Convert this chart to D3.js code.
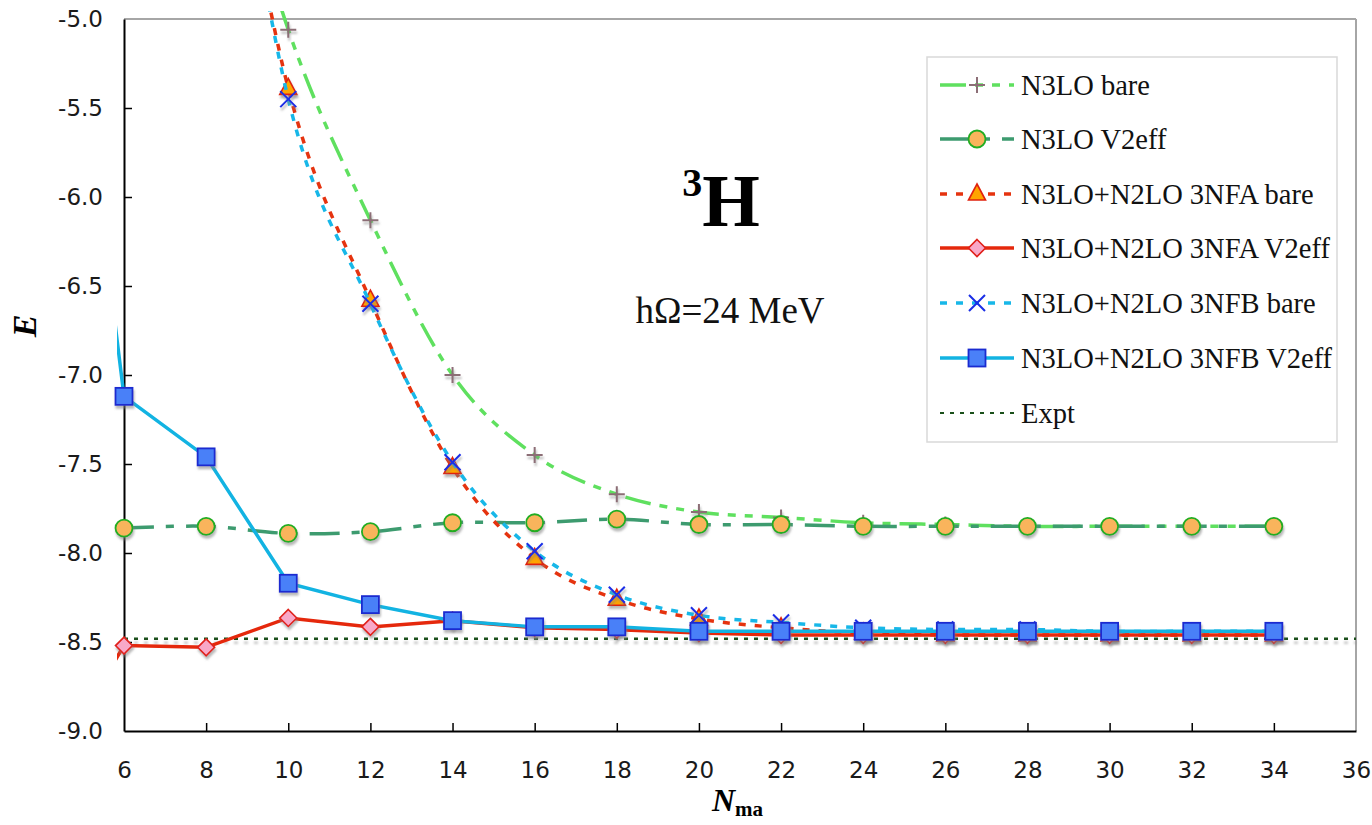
<!DOCTYPE html>
<html>
<head>
<meta charset="utf-8">
<script src="https://cdn.jsdelivr.net/npm/d3@7"></script>
<style>
  html, body { margin: 0; padding: 0; background: #fff; }
  svg { display: block; }
</style>
</head>
<body>
<svg id="chart" width="1372" height="825"></svg>
<script>
// ---------- data ----------
const nBare   = [8, 10, 12, 14, 16, 18, 20, 22, 24, 26, 28, 30, 32, 34];
const nEff    = [6, 8, 10, 12, 14, 16, 18, 20, 22, 24, 26, 28, 30, 32, 34];
const nEff4   = [4, 6, 8, 10, 12, 14, 16, 18, 20, 22, 24, 26, 28, 30, 32, 34];

const n3loBare   = [-3.45, -5.06, -6.13, -7.00, -7.45, -7.67, -7.77, -7.80, -7.83, -7.84, -7.85, -7.85, -7.85, -7.85];
const n3loV2eff  = [-7.86, -7.85, -7.89, -7.88, -7.83, -7.83, -7.81, -7.84, -7.84, -7.85, -7.85, -7.85, -7.85, -7.85, -7.85];
const nfaBare    = [-3.02, -5.39, -6.58, -7.52, -8.03, -8.26, -8.37, -8.42, -8.45, -8.46, -8.46, -8.46, -8.46, -8.46];
const nfaV2eff   = [-9.29, -8.52, -8.53, -8.365, -8.415, -8.38, -8.42, -8.43, -8.45, -8.46, -8.46, -8.46, -8.46, -8.46, -8.46, -8.46];
const nfbBare    = [-2.83, -5.45, -6.60, -7.49, -7.99, -8.235, -8.35, -8.39, -8.42, -8.43, -8.43, -8.44, -8.44, -8.44];
const nfbV2eff   = [-3.36, -7.12, -7.46, -8.17, -8.29, -8.38, -8.415, -8.415, -8.44, -8.44, -8.44, -8.44, -8.44, -8.44, -8.44, -8.44];
const expt       = -8.482;

const xTicks = [6, 8, 10, 12, 14, 16, 18, 20, 22, 24, 26, 28, 30, 32, 34, 36];
const yTicks = [-9.0, -8.5, -8.0, -7.5, -7.0, -6.5, -6.0, -5.5, -5.0];

const seriesNames = ["N3LO bare", "N3LO V2eff", "N3LO+N2LO 3NFA bare", "N3LO+N2LO 3NFA V2eff",
                     "N3LO+N2LO 3NFB bare", "N3LO+N2LO 3NFB V2eff", "Expt"];

// ---------- layout ----------
const svg = d3.select("#chart");
const L = 124, R = 1356, T = 19, B = 731;
const x = d3.scaleLinear().domain([6, 36]).range([L, R]);
const y = d3.scaleLinear().domain([-9, -5]).range([B, T]);

const defs = svg.append("defs");
const f = defs.append("filter").attr("id", "shadow").attr("x", "-50%").attr("y", "-50%").attr("width", "200%").attr("height", "200%");
f.append("feDropShadow").attr("dx", 1).attr("dy", 3).attr("stdDeviation", 1.2)
  .attr("flood-color", "#808080").attr("flood-opacity", 0.55);
const f2 = defs.append("filter").attr("id", "shadowU").attr("filterUnits", "userSpaceOnUse")
  .attr("x", 0).attr("y", 0).attr("width", 1372).attr("height", 825);
f2.append("feDropShadow").attr("dx", 0).attr("dy", 4).attr("stdDeviation", 0.8)
  .attr("flood-color", "#909090").attr("flood-opacity", 0.5);
defs.append("clipPath").attr("id", "clip").append("rect")
  .attr("x", 117).attr("y", 11).attr("width", R - 117).attr("height", B - 11);

// plot border (top, right)
svg.append("line").attr("x1", L).attr("x2", R).attr("y1", T).attr("y2", T).attr("stroke", "#a6a6a6").attr("stroke-width", 2);
svg.append("line").attr("x1", R).attr("x2", R).attr("y1", T).attr("y2", B).attr("stroke", "#a6a6a6").attr("stroke-width", 2);

// axes
const xAxis = d3.axisBottom(x).tickValues(xTicks).tickFormat(d3.format("d")).tickSizeInner(-8).tickSizeOuter(0).tickPadding(31);
const yAxis = d3.axisLeft(y).tickValues(yTicks).tickFormat(d3.format(".1f")).tickSizeInner(-8).tickSizeOuter(0).tickPadding(21);

const gx = svg.append("g").attr("transform", `translate(0,${B})`).call(xAxis);
const gy = svg.append("g").attr("transform", `translate(${L},0)`).call(yAxis);
[gx, gy].forEach(g => {
  g.select(".domain").attr("stroke", "#000").attr("stroke-width", 2);
  g.selectAll(".tick line").attr("stroke", "#000").attr("stroke-width", 1.5);
  g.selectAll(".tick text").attr("font-family", "DejaVu Sans, Verdana, sans-serif").attr("font-size", 23).attr("fill", "#1a1a1a");
});
gx.selectAll(".tick").filter(d => d === 6 || d === 36).select("line").remove();
gy.selectAll(".tick").filter(d => d === -9 || d === -5).select("line").remove();
gy.selectAll(".tick text").text(d => d.toFixed(1));

// axis titles
svg.append("text").attr("transform", "translate(36,326) rotate(-90)").attr("text-anchor", "middle")
  .attr("font-family", "Liberation Serif, Times New Roman, serif").attr("font-weight", "bold").attr("font-style", "italic")
  .attr("font-size", 34).text("E");
const xt = svg.append("text").attr("x", 712).attr("y", 811)
  .attr("font-family", "Liberation Serif, Times New Roman, serif").attr("font-weight", "bold");
xt.append("tspan").attr("font-style", "italic").attr("font-size", 32).text("N");
xt.append("tspan").attr("font-size", 21).attr("dy", 5).text("ma");

// annotations
const ht = svg.append("text").attr("x", 721).attr("y", 226).attr("text-anchor", "middle")
  .attr("font-family", "Liberation Serif, Times New Roman, serif").attr("font-weight", "bold");
ht.append("tspan").attr("font-size", 40).attr("dy", -30).text("3");
ht.append("tspan").attr("font-size", 74).attr("dy", 30).text("H");
svg.append("text").attr("x", 730).attr("y", 323).attr("text-anchor", "middle")
  .attr("font-family", "Liberation Serif, Times New Roman, serif").attr("font-size", 37).attr("fill", "#111")
  .text("hΩ=24 MeV");

// ---------- series ----------
const markers = {
  plus:   (g, c) => g.append("path").attr("d", "M-8,0H8M0,-8V8").attr("stroke", c.ms).attr("stroke-width", 2).attr("fill", "none"),
  circle: (g, c) => g.append("circle").attr("r", 8.5).attr("fill", c.mf).attr("stroke", c.ms).attr("stroke-width", 1.8),
  tri:    (g, c) => g.append("path").attr("d", "M0,-10L8.5,6L-8.5,6Z").attr("fill", c.mf).attr("stroke", c.ms).attr("stroke-width", 1.6),
  diam:   (g, c) => g.append("path").attr("d", "M0,-8.5L8.5,0L0,8.5L-8.5,0Z").attr("fill", c.mf).attr("stroke", c.ms).attr("stroke-width", 1.6),
  cross:  (g, c) => g.append("path").attr("d", "M-8,-8L8,8M-8,8L8,-8").attr("stroke", c.ms).attr("stroke-width", 2).attr("fill", "none"),
  square: (g, c) => g.append("rect").attr("x", -8.5).attr("y", -8.5).attr("width", 17).attr("height", 17).attr("fill", c.mf).attr("stroke", c.ms).attr("stroke-width", 1.8)
};

const series = [
  { name: seriesNames[0], xs: nBare, ys: n3loBare,  line: "#5fe05f", dash: "26 9 8 9 8 9", w: 3.5, smooth: true,  mk: "plus",   ms: "#8c6e76", mf: "none" },
  { name: seriesNames[1], xs: nEff,  ys: n3loV2eff, line: "#3d9b6f", dash: "30 12 8 12",   w: 3.5, smooth: true,  mk: "circle", ms: "#22ad22", mf: "#f9b45c" },
  { name: seriesNames[2], xs: nBare, ys: nfaBare,   line: "#e5330f", dash: "7 9",          w: 3.5, smooth: true,  mk: "tri",    ms: "#e0220e", mf: "#ffa500" },
  { name: seriesNames[3], xs: nEff4, ys: nfaV2eff,  line: "#e5280c", dash: null,           w: 3.5, smooth: false, mk: "diam",   ms: "#e0201a", mf: "#f8a8c8" },
  { name: seriesNames[4], xs: nBare, ys: nfbBare,   line: "#17b7e8", dash: "7 9",          w: 3.5, smooth: true,  mk: "cross",  ms: "#1a2ee6", mf: "none", offset: 7 },
  { name: seriesNames[5], xs: nEff4, ys: nfbV2eff,  line: "#12b3e2", dash: null,           w: 3.5, smooth: false, mk: "square", ms: "#1a2bd0", mf: "#4a80f8" }
];

const plot = svg.append("g");
// Expt line first
plot.append("line").attr("x1", L).attr("x2", R).attr("y1", y(expt)).attr("y2", y(expt))
  .attr("stroke", "#1a4f1a").attr("stroke-width", 2.5).attr("stroke-dasharray", "4 6").attr("filter", "url(#shadowU)");

series.forEach(s => {
  const pts = s.xs.map((n, i) => [n, s.ys[i]]);
  const lg = d3.line().x(d => x(d[0])).y(d => y(d[1]))
    .curve(s.smooth ? d3.curveCardinal.tension(0) : d3.curveLinear);
  const p = plot.append("path").datum(pts).attr("d", lg).attr("fill", "none")
    .attr("stroke", s.line).attr("stroke-width", s.w).attr("clip-path", "url(#clip)");
  if (s.dash) p.attr("stroke-dasharray", s.dash).attr("stroke-dashoffset", s.offset || 0);
  const mg = plot.append("g").attr("filter", "url(#shadow)");
  pts.filter(d => d[0] >= 6 && d[1] <= -5 && d[1] >= -9).forEach(d => {
    const g = mg.append("g").attr("transform", `translate(${x(d[0])},${y(d[1])})`);
    markers[s.mk](g, s);
  });
});

// ---------- legend ----------
const lgd = svg.append("g");
lgd.append("rect").attr("x", 927).attr("y", 57).attr("width", 410).attr("height", 385)
  .attr("fill", "#fff").attr("stroke", "#d9d9d9").attr("stroke-width", 1.5);
const rowY = [85, 139, 194, 248, 303, 358, 413];
series.forEach((s, i) => {
  const yy = rowY[i];
  const l = lgd.append("line").attr("x1", 940).attr("x2", 1014).attr("y1", yy).attr("y2", yy)
    .attr("stroke", s.line).attr("stroke-width", s.w);
  if (s.dash) l.attr("stroke-dasharray", s.dash);
  const g = lgd.append("g").attr("transform", `translate(977,${yy})`);
  markers[s.mk](g, s);
  lgd.append("text").attr("x", 1021).attr("y", yy + 10).attr("font-family", "Liberation Serif, Times New Roman, serif")
    .attr("font-size", 28.5).attr("fill", "#111").text(s.name);
});
lgd.append("line").attr("x1", 940).attr("x2", 1014).attr("y1", rowY[6]).attr("y2", rowY[6])
  .attr("stroke", "#1a4f1a").attr("stroke-width", 2).attr("stroke-dasharray", "4 6");
lgd.append("text").attr("x", 1021).attr("y", rowY[6] + 10).attr("font-family", "Liberation Serif, Times New Roman, serif")
  .attr("font-size", 28.5).attr("fill", "#111").text(seriesNames[6]);
</script>
</body>
</html>
